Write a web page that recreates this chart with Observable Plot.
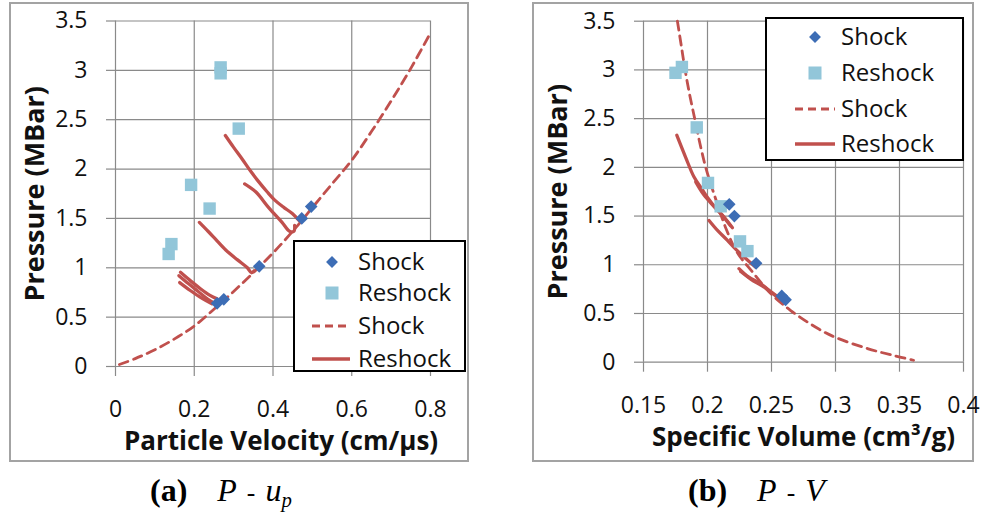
<!DOCTYPE html>
<html>
<head>
<meta charset="utf-8">
<script src="https://cdn.jsdelivr.net/npm/d3@7"></script>
<script src="https://cdn.jsdelivr.net/npm/@observablehq/plot@0.6"></script>
<style>
  html, body { margin: 0; padding: 0; background: #fff; }
  #fig { position: relative; width: 983px; height: 513px; overflow: hidden; font-family: "Open Sans", sans-serif; }
  .box { position: absolute; box-sizing: border-box; border: 2px solid #a3a3a3; }
  .plot { position: absolute; }
  .legend { position: absolute; box-sizing: border-box; border: 2.5px solid #000; background: #fff; }
  .legend .sym { position: absolute; overflow: visible; }
  .legend .lab { position: absolute; font-family: "Open Sans", sans-serif; font-size: 24px; color: #111; line-height: 1; transform: translateY(-55%); white-space: nowrap; }
  .cap { position: absolute; font-family: "Liberation Serif", "DejaVu Serif", serif; font-size: 32px; color: #000; white-space: nowrap; line-height: 1; }
  .cap b { font-weight: bold; margin-right: 30px; }
  .cap i { font-style: italic; }
  .cap .op { margin: 0 10px; font-size: 80%; }
  .cap sub { font-size: 65%; vertical-align: -0.3em; }
</style>
</head>
<body>
<div id="fig"></div>
<script>
// ---------------- data ----------------
// Panel (a): P - up
const xTicksA = [0, 0.2, 0.4, 0.6, 0.8];
const xLabelsA = ["0", "0.2", "0.4", "0.6", "0.8"];
// Panel (b): P - V
const xTicksB = [0.15, 0.2, 0.25, 0.3, 0.35, 0.4];
const xLabelsB = ["0.15", "0.2", "0.25", "0.3", "0.35", "0.4"];
const yTicks = [0, 0.5, 1, 1.5, 2, 2.5, 3, 3.5];
const yLabels = ["0", "0.5", "1", "1.5", "2", "2.5", "3", "3.5"];

// Shock data points (diamonds)
const shockUp = [0.258, 0.275, 0.365, 0.473, 0.497];
const shockP  = [0.64, 0.68, 1.015, 1.50, 1.62];
const shockV  = [0.261, 0.258, 0.238, 0.221, 0.217];

// Reshock data points (squares)
const reshockUp = [0.267, 0.267, 0.313, 0.192, 0.239, 0.142, 0.135];
const reshockP  = [3.03, 2.97, 2.41, 1.84, 1.60, 1.24, 1.14];
const reshockV  = [0.180, 0.175, 0.1916, 0.2004, 0.2103, 0.2254, 0.2312];

// Shock Hugoniot (dashed) in P-up
const hugUp = [0.01, 0.05, 0.1, 0.15, 0.2, 0.25, 0.3, 0.35, 0.4, 0.45, 0.5, 0.55, 0.6, 0.65, 0.7, 0.75, 0.8];
const hugP  = [0.02, 0.08, 0.17, 0.28, 0.41, 0.58, 0.76, 0.95, 1.15, 1.37, 1.61, 1.85, 2.09, 2.38, 2.69, 3.02, 3.38];
// Shock Hugoniot (dashed) in P-V
const hugV  = [0.1765, 0.1795, 0.1825, 0.186, 0.190, 0.194, 0.1986, 0.2060, 0.2145, 0.2230, 0.2355, 0.2490, 0.2650, 0.2870, 0.2990, 0.3250, 0.3450, 0.3610];
const hugPV = [3.50, 3.25, 3.00, 2.75, 2.50, 2.25, 2.00, 1.69, 1.37, 1.13, 0.92, 0.71, 0.53, 0.34, 0.26, 0.14, 0.07, 0.02];

// Reshock curves (solid) in P-up : [up, P]
const rsA1 = [[0.279, 2.34], [0.300, 2.22], [0.322, 2.10], [0.343, 1.98], [0.364, 1.87], [0.385, 1.77], [0.406, 1.68], [0.428, 1.61], [0.449, 1.55], [0.466, 1.48]];
const rsA2 = [[0.328, 1.85], [0.356, 1.77], [0.389, 1.61], [0.423, 1.46], [0.442, 1.37], [0.453, 1.37], [0.455, 1.43]];
const rsA3 = [[0.213, 1.46], [0.235, 1.37], [0.254, 1.29], [0.280, 1.18], [0.310, 1.08], [0.335, 1.00], [0.345, 0.95], [0.352, 0.97]];
const rsA4 = [[0.165, 0.955], [0.190, 0.87], [0.215, 0.79], [0.240, 0.72], [0.258, 0.685]];
const rsA5 = [[0.161, 0.92], [0.185, 0.84], [0.210, 0.76], [0.235, 0.68], [0.254, 0.635]];
const rsA6 = [[0.163, 0.85], [0.190, 0.77], [0.220, 0.69], [0.245, 0.635]];
// Reshock curves (solid) in P-V : [V, P]
const rsB1 = [[0.176, 2.33], [0.183, 2.10], [0.1895, 1.90], [0.1955, 1.78], [0.200, 1.69], [0.2065, 1.58], [0.2129, 1.49], [0.2195, 1.38]];
const rsB2 = [[0.1908, 1.85], [0.197, 1.72], [0.205, 1.60], [0.212, 1.50], [0.218, 1.40]];
const rsB3 = [[0.2012, 1.455], [0.208, 1.35], [0.2156, 1.25], [0.222, 1.16], [0.2285, 1.08], [0.2377, 0.975]];
const rsB4 = [[0.2246, 0.96], [0.232, 0.875], [0.2416, 0.805], [0.2546, 0.667], [0.2598, 0.62]];
const rsB5 = [[0.226, 0.93], [0.234, 0.85], [0.243, 0.78], [0.252, 0.70], [0.258, 0.645]];

const legendLabels = ["Shock", "Reshock", "Shock", "Reshock"];
const xTitleA = "Particle Velocity (cm/µs)";
const xTitleB = "Specific Volume (cm³/g)";
const yTitle = "Pressure (MBar)";

// ---------------- styles ----------------
const C_SHOCK = "#3d6db5";
const C_RESHOCK = "#92c6d9";
const C_LINE = "#c0504d";
const C_GRID = "#8a8a8a";

const fig = document.getElementById("fig");

function toRows(xs, ys) { return xs.map((x, i) => ({x, y: ys[i]})); }
function curves(list) { return list.flatMap((c, k) => c.map(([x, y]) => ({x, y, id: k}))); }

function panel({xTicks, xLabels, xDomain, shockX, reshockX, hX, hY, rs, xTitle, w, h, m, titleDx, titleDy, yTitleDx}) {
  const shock = toRows(shockX, shockP);
  const reshock = toRows(reshockX, reshockP);
  const hug = toRows(hX, hY).sort((a, b) => a.x - b.x);
  const rsRows = curves(rs);
  return Plot.plot({
    width: w, height: h,
    marginLeft: m[0], marginRight: m[1], marginTop: m[2], marginBottom: m[3],
    style: {fontFamily: "Open Sans, sans-serif", fontSize: "23px", color: "#111", background: "transparent", overflow: "visible"},
    x: {domain: xDomain},
    y: {domain: [0, 3.5]},
    marks: [
      Plot.gridX({ticks: xTicks, stroke: C_GRID, strokeOpacity: 1, strokeWidth: 1.2}),
      Plot.gridY({ticks: yTicks, stroke: C_GRID, strokeOpacity: 1, strokeWidth: 1.2}),
      Plot.axisX({ticks: xTicks, tickSize: 10, tickPadding: 24, stroke: C_GRID, strokeWidth: 1.2, label: null,
        tickFormat: d => xLabels[xTicks.indexOf(d)]}),
      Plot.axisY({ticks: yTicks, tickSize: 9, tickPadding: 19, stroke: C_GRID, strokeWidth: 1.2, label: null,
        tickFormat: d => yLabels[yTicks.indexOf(d)]}),
      Plot.line(hug, {x: "x", y: "y", stroke: C_LINE, strokeWidth: 2.8, strokeDasharray: "9,6", curve: "catmull-rom"}),
      Plot.line(rsRows, {x: "x", y: "y", z: "id", stroke: C_LINE, strokeWidth: 3.3, curve: "catmull-rom"}),
      Plot.dot(reshock, {x: "x", y: "y", symbol: "square", r: 7, fill: C_RESHOCK, stroke: "none"}),
      Plot.dot(shock, {x: "x", y: "y", symbol: "diamond2", r: 5.7, fill: C_SHOCK, stroke: "none"}),
      Plot.text([xTitle], {frameAnchor: "bottom", dx: titleDx, dy: titleDy, lineAnchor: "middle", textAnchor: "middle",
        fontSize: 26, fontWeight: "bold", fill: "#111"}),
      Plot.text([yTitle], {frameAnchor: "left", dx: yTitleDx, rotate: -90, lineAnchor: "middle", textAnchor: "middle",
        fontSize: 27, fontWeight: "bold", fill: "#111"})
    ]
  });
}

function place(el, left, top) {
  el.classList.add("plot");
  el.style.left = left + "px";
  el.style.top = top + "px";
  fig.appendChild(el);
}

function box(left, top, w, h) {
  const d = document.createElement("div");
  d.className = "box";
  Object.assign(d.style, {left: left + "px", top: top + "px", width: w + "px", height: h + "px"});
  fig.appendChild(d);
}

function legend(left, top, w, h, rowsY, symX, lineX0, lineX1, textX) {
  const L = document.createElement("div");
  L.className = "legend";
  Object.assign(L.style, {left: left + "px", top: top + "px", width: w + "px", height: h + "px"});
  const syms = [
    `<path d="M0,-7L7,0L0,7L-7,0Z" fill="${C_SHOCK}" transform="scale(0.85)"/>`,
    `<rect x="-6.5" y="-6.5" width="13" height="13" fill="${C_RESHOCK}"/>`,
    `<line x1="${lineX0 - symX}" x2="${lineX1 - symX}" y1="0" y2="0" stroke="${C_LINE}" stroke-width="3" stroke-dasharray="8,5"/>`,
    `<line x1="${lineX0 - symX}" x2="${lineX1 - symX}" y1="0" y2="0" stroke="${C_LINE}" stroke-width="3.5"/>`
  ];
  legendLabels.forEach((lab, i) => {
    const s = document.createElementNS("http://www.w3.org/2000/svg", "svg");
    s.setAttribute("class", "sym");
    s.setAttribute("width", "1"); s.setAttribute("height", "1");
    s.style.left = (symX - left) + "px";
    s.style.top = (rowsY[i] - top) + "px";
    s.innerHTML = syms[i];
    L.appendChild(s);
    const t = document.createElement("div");
    t.className = "lab";
    t.textContent = lab;
    t.style.left = (textX - left) + "px";
    t.style.top = (rowsY[i] - top) + "px";
    L.appendChild(t);
  });
  fig.appendChild(L);
}

// Panel frames
box(9, 2, 460, 460);
box(532, 2, 442, 460);

// Panel (a)
const pa = panel({
  xTicks: xTicksA, xLabels: xLabelsA, xDomain: [0, 0.8],
  shockX: shockUp, reshockX: reshockUp, hX: hugUp, hY: hugP,
  rs: [rsA1, rsA2, rsA3, rsA4, rsA5, rsA6], xTitle: xTitleA,
  w: 458, h: 458, m: [105, 38, 17.5, 95], titleDx: 8, titleDy: 75, yTitleDx: -80
});
place(pa, 10, 3);

// Panel (b)
const pb = panel({
  xTicks: xTicksB, xLabels: xLabelsB, xDomain: [0.15, 0.4],
  shockX: shockV, reshockX: reshockV, hX: hugV, hY: hugPV,
  rs: [rsB1, rsB2, rsB3, rsB4, rsB5], xTitle: xTitleB,
  w: 440, h: 458, m: [110, 10, 17.7, 99.3], titleDx: 0, titleDy: 75, yTitleDx: -85
});
place(pb, 533, 3);

// Legends
legend(293, 240, 173, 132, [260, 291, 324, 357], 330, 310, 348, 356);
legend(765, 17, 199, 144, [35, 71, 107, 142], 813, 793, 833, 839);

// Captions
const capA = document.createElement("div");
capA.className = "cap";
capA.style.left = "150px"; capA.style.top = "474px";
capA.innerHTML = "<b>(a)</b><i>P</i><span class='op'>-</span><i>u</i><sub><i>p</i></sub>";
fig.appendChild(capA);
const capB = document.createElement("div");
capB.className = "cap";
capB.style.left = "688px"; capB.style.top = "474px";
capB.innerHTML = "<b>(b)</b><i>P</i><span class='op'>-</span><i>V</i>";
fig.appendChild(capB);
</script>
</body>
</html>
